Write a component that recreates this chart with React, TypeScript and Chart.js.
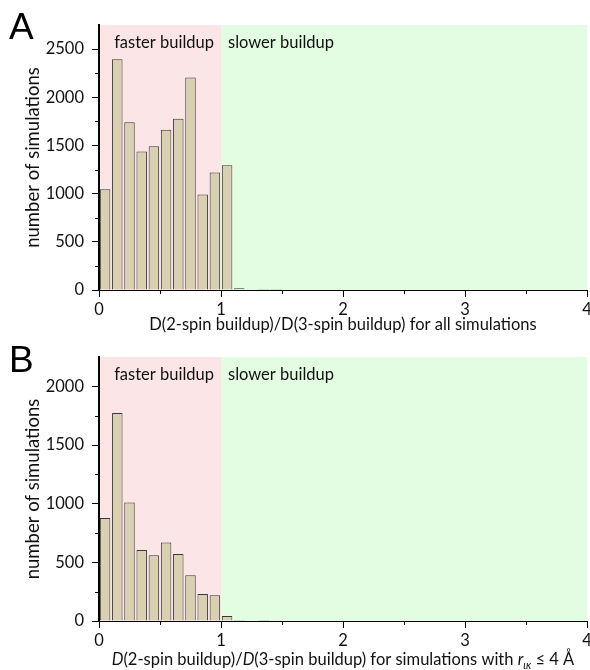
import React, { useEffect, useRef } from "react";
import { Chart, registerables } from "chart.js";

Chart.register(...registerables);

// Histogram bins (left edge of each 0.1-wide bin)
const binStarts = [0, 0.1, 0.2, 0.3, 0.4, 0.5, 0.6, 0.7, 0.8, 0.9, 1.0, 1.1, 1.2, 1.3, 1.4];
const binWidth = 0.1;

// Counts for all simulations
const countsAll = [1045, 2395, 1740, 1437, 1493, 1663, 1777, 2204, 990, 1219, 1295, 18, 0, 10, 10];
// Counts for simulations with r_ικ ≤ 4 Å
const countsNear = [878, 1773, 1009, 605, 560, 670, 571, 389, 230, 219, 43, 8, 0, 9, 7];

const xTickValues = [0, 1, 2, 3, 4];
const yTicksAll = [0, 500, 1000, 1500, 2000, 2500];
const yTicksNear = [0, 500, 1000, 1500, 2000];
const yMaxAll = 2750;
const yMaxNear = 2250;
const yMinorStep = 250;
const xMinorStep = 0.5;
const splitValue = 1;
const regionLabels = ["faster buildup", "slower buildup"];
const yTitle = "number of simulations";

type Seg = { text: string; italic?: boolean; sub?: boolean };
const xTitleAll: Seg[] = [{ text: "D(2-spin buildup)/D(3-spin buildup) for all simulations" }];
const xTitleNear: Seg[] = [
  { text: "D", italic: true },
  { text: "(2-spin buildup)/" },
  { text: "D", italic: true },
  { text: "(3-spin buildup) for simulations with " },
  { text: "r", italic: true },
  { text: "ικ", italic: true, sub: true },
  { text: " ≤ 4 Å" },
];

const FONT = "Lato, 'Open Sans', sans-serif";
const TEXT = "#111111";
const PINK = "#fce5e6";
const GREEN = "#e2fde2";
const BAR_FILL = "#d8d0b0";
const BAR_EDGE = "#3a3a3a";

interface PanelCfg {
  letter: string;
  letterX: number;
  letterY: number;
  counts: number[];
  yMax: number;
  yTicks: number[];
  plotTop: number;
  axisHeight: number;
  title: Seg[];
  titleBaseline: number;
}

function makeDecor(cfg: PanelCfg) {
  return {
    id: "panelDecor",
    beforeDraw(chart: any) {
      const { ctx, chartArea } = chart;
      const x = chart.scales.x;
      const xs = x.getPixelForValue(splitValue);
      const x0 = x.getPixelForValue(x.min);
      const x1 = x.getPixelForValue(x.max);
      ctx.save();
      ctx.fillStyle = PINK;
      ctx.fillRect(x0, chartArea.top, xs - x0, chartArea.bottom - chartArea.top);
      ctx.fillStyle = GREEN;
      ctx.fillRect(xs, chartArea.top, x1 - xs, chartArea.bottom - chartArea.top);
      ctx.restore();
    },
    afterDraw(chart: any) {
      const { ctx, chartArea } = chart;
      const x = chart.scales.x;
      const y = chart.scales.y;
      const xs = x.getPixelForValue(splitValue);
      ctx.save();
      // region captions
      ctx.fillStyle = TEXT;
      ctx.font = `16.5px ${FONT}`;
      ctx.textBaseline = "middle";
      ctx.textAlign = "right";
      ctx.fillText(regionLabels[0], xs - 7, chartArea.top + 18);
      ctx.textAlign = "left";
      ctx.fillText(regionLabels[1], xs + 7, chartArea.top + 18);

      // minor ticks
      ctx.strokeStyle = "#000";
      ctx.lineWidth = 1;
      ctx.beginPath();
      for (let v = yMinorStep; v < y.max; v += 2 * yMinorStep) {
        const py = Math.round(y.getPixelForValue(v)) + 0.5;
        ctx.moveTo(chartArea.left - 4, py);
        ctx.lineTo(chartArea.left, py);
      }
      for (let v = xMinorStep; v < x.max; v += 2 * xMinorStep) {
        const px = Math.round(x.getPixelForValue(v)) + 0.5;
        ctx.moveTo(px, chartArea.bottom);
        ctx.lineTo(px, chartArea.bottom + 4);
      }
      ctx.stroke();

      // x-axis title with mixed styles
      const fontFor = (s: Seg) => `${s.italic ? "italic " : ""}${s.sub ? 11 : 16.5}px ${FONT}`;
      let total = 0;
      const widths = cfg.title.map((s) => {
        ctx.font = fontFor(s);
        const w = ctx.measureText(s.text).width;
        total += w;
        return w;
      });
      let cx = (chartArea.left + chartArea.right) / 2 - total / 2;
      ctx.textAlign = "left";
      ctx.textBaseline = "alphabetic";
      cfg.title.forEach((s, i) => {
        ctx.font = fontFor(s);
        ctx.fillText(s.text, cx, cfg.titleBaseline + (s.sub ? 4 : 0));
        cx += widths[i];
      });

      // panel letter
      ctx.font = `37px 'Liberation Sans', Arial, sans-serif`;
      ctx.fillStyle = "#000";
      ctx.fillText(cfg.letter, cfg.letterX, cfg.letterY);
      ctx.restore();
    },
  };
}

function Panel({ cfg }: { cfg: PanelCfg }) {
  const ref = useRef<HTMLCanvasElement>(null);
  useEffect(() => {
    if (!ref.current) return;
    const points = binStarts
      .map((b, i) => ({ x: +(b + binWidth / 2).toFixed(2), y: cfg.counts[i] }))
      .filter((p) => p.y > 0);
    const chart = new Chart(ref.current, {
      type: "bar",
      data: {
        datasets: [
          {
            data: points as any,
            backgroundColor: BAR_FILL,
            borderColor: BAR_EDGE,
            borderWidth: 1,
            barPercentage: 0.86,
            categoryPercentage: 1,
          },
        ],
      },
      options: {
        responsive: false,
        animation: false,
        devicePixelRatio: 1,
        layout: {
          autoPadding: false,
          padding: { top: cfg.plotTop, right: 3, left: 0, bottom: 0 },
        },
        plugins: {
          legend: { display: false },
          tooltip: { enabled: false },
        },
        scales: {
          x: {
            type: "linear",
            min: 0,
            max: 4,
            offset: false,
            afterBuildTicks: (s: any) => {
              s.ticks = xTickValues.map((v) => ({ value: v }));
            },
            ticks: {
              autoSkip: false,
              maxRotation: 0,
              padding: 3,
              color: TEXT,
              font: { family: FONT, size: 16.5 },
              callback: (v: any) => String(v),
            },
            grid: {
              display: true,
              drawOnChartArea: false,
              drawTicks: true,
              tickLength: 7,
              tickColor: "#000",
              offset: false,
            },
            border: { display: true, color: "#000", width: 1 },
            afterFit: (s: any) => {
              s.height = cfg.axisHeight;
              s.paddingLeft = 0;
              s.paddingRight = 0;
            },
          },
          y: {
            min: 0,
            max: cfg.yMax,
            afterBuildTicks: (s: any) => {
              s.ticks = cfg.yTicks.map((v) => ({ value: v }));
            },
            ticks: {
              padding: 8,
              color: TEXT,
              font: { family: FONT, size: 16.5 },
              callback: (v: any) => String(v),
            },
            grid: {
              display: true,
              drawOnChartArea: false,
              drawTicks: true,
              tickLength: 7,
              tickColor: "#000",
            },
            border: { display: true, color: "#000", width: 2 },
            title: {
              display: true,
              text: yTitle,
              color: TEXT,
              font: { family: FONT, size: 18.5 },
              padding: { top: 22, bottom: 0 },
            },
            afterFit: (s: any) => {
              s.width = 99;
              s.paddingTop = 0;
              s.paddingBottom = 0;
            },
          },
        },
      } as any,
      plugins: [makeDecor(cfg)],
    });
    return () => chart.destroy();
  }, [cfg]);
  return <canvas ref={ref} width={590} height={335} style={{ display: "block", width: 590, height: 335 }} />;
}

const panelA: PanelCfg = {
  letter: "A",
  letterX: 9,
  letterY: 39,
  counts: countsAll,
  yMax: yMaxAll,
  yTicks: yTicksAll,
  plotTop: 25,
  axisHeight: 45,
  title: xTitleAll,
  titleBaseline: 330,
};

const panelB: PanelCfg = {
  letter: "B",
  letterX: 9,
  letterY: 37,
  counts: countsNear,
  yMax: yMaxNear,
  yTicks: yTicksNear,
  plotTop: 22,
  axisHeight: 49,
  title: xTitleNear,
  titleBaseline: 330,
};

export default function App() {
  return (
    <div style={{ position: "absolute", left: 0, top: 0, width: 590, height: 670, background: "#fff" }}>
      <Panel cfg={panelA} />
      <Panel cfg={panelB} />
    </div>
  );
}
